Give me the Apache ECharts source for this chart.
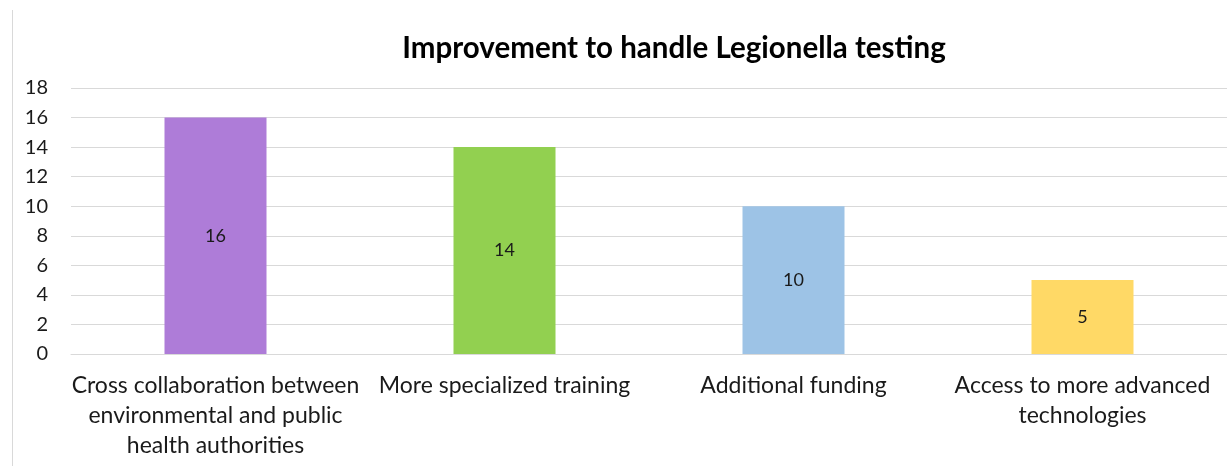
<!DOCTYPE html>
<html>
<head>
<meta charset="utf-8">
<script src="https://cdn.jsdelivr.net/npm/echarts@6/dist/echarts.min.js"></script>
<style>
  html, body { margin: 0; padding: 0; background: #fff; }
  #chart { width: 1227px; height: 466px; }
</style>
</head>
<body>
<div id="chart"></div>
<script>
// categories (line breaks as in the picture)
var categories = [
  "Cross collaboration between\nenvironmental and public\nhealth authorities",
  "More specialized training",
  "Additional funding",
  "Access to more advanced\ntechnologies"
];
var counts = [16, 14, 10, 5];
var barColors = ["#ae7cd8", "#92d050", "#9dc3e6", "#ffd966"];

var chart = echarts.init(document.getElementById('chart'));

var barData = [];
for (var i = 0; i < counts.length; i++) {
  barData.push({ value: counts[i], itemStyle: { color: barColors[i] } });
}

chart.setOption({
  animation: false,
  textStyle: { fontFamily: 'Lato' },
  title: {
    text: 'Improvement to handle Legionella testing',
    left: 669,
    top: 28,
    textAlign: 'center',
    textStyle: { fontFamily: 'Lato', fontSize: 29.5, fontWeight: 'bold', color: '#000' }
  },
  grid: { left: 71, right: -2, top: 88, bottom: 112 },
  xAxis: {
    type: 'category',
    data: categories,
    axisLine: { show: true, lineStyle: { color: '#d9d9d9', width: 1 } },
    axisTick: { show: false },
    axisLabel: {
      interval: 0,
      margin: 17,
      color: '#1a1a1a',
      fontSize: 23,
      lineHeight: 30,
      fontFamily: 'Lato'
    }
  },
  yAxis: {
    type: 'value',
    min: 0,
    max: 18,
    interval: 2,
    axisLine: { show: false },
    axisTick: { show: false },
    splitLine: { lineStyle: { color: '#d9d9d9', width: 1 } },
    axisLabel: { margin: 23, color: '#1a1a1a', fontSize: 20, fontFamily: 'Lato' }
  },
  graphic: [{
    type: 'line',
    shape: { x1: 12.5, y1: 10, x2: 12.5, y2: 466 },
    style: { stroke: '#d9d9d9', lineWidth: 1 }
  }],
  series: [{
    type: 'bar',
    data: barData,
    barWidth: 102,
    label: {
      show: true,
      position: 'inside',
      color: '#1a1a1a',
      fontSize: 18,
      fontFamily: 'Lato'
    }
  }]
});
</script>
</body>
</html>
